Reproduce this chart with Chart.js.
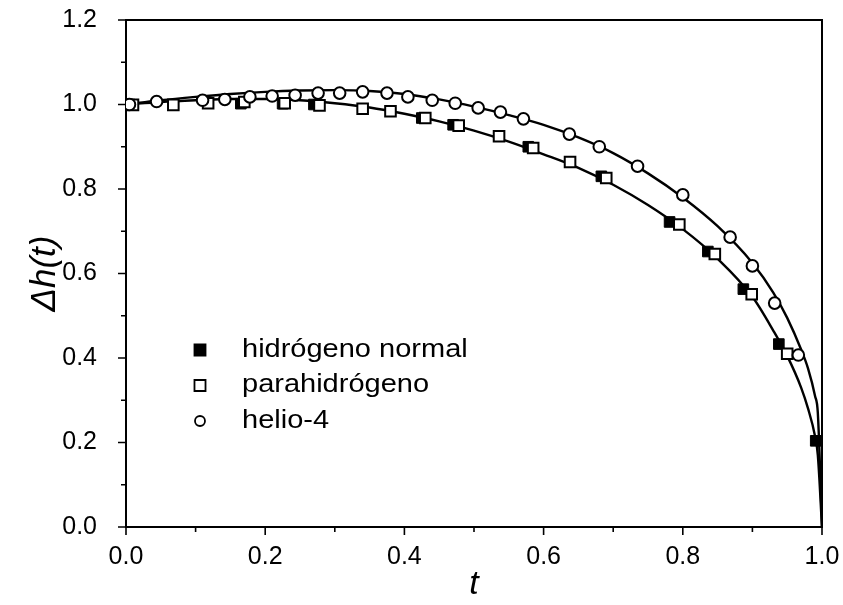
<!DOCTYPE html>
<html>
<head>
<meta charset="utf-8">
<script src="https://cdn.jsdelivr.net/npm/chart.js@4/dist/chart.umd.min.js"></script>
<style>
  html, body { margin: 0; padding: 0; background: #fff; }
  #plot { display: block; }
</style>
</head>
<body>
<canvas id="plot" width="843" height="605"></canvas>
<script>
// medidas: hidrógeno normal
const hnT  = [0.005, 0.165, 0.225, 0.27, 0.425, 0.47, 0.578, 0.683, 0.781, 0.836, 0.887, 0.938, 0.991];
const hnDh = [1.000, 1.002, 1.002, 1.000, 0.968, 0.952, 0.900, 0.830, 0.722, 0.652, 0.563, 0.433, 0.204];

// medidas: parahidrógeno
const phT  = [0.01, 0.068, 0.118, 0.17, 0.228, 0.278, 0.34, 0.38, 0.43, 0.478, 0.536, 0.585, 0.638, 0.69, 0.795, 0.846, 0.899, 0.95];
const phDh = [0.999, 0.999, 1.003, 1.006, 1.003, 0.998, 0.990, 0.984, 0.968, 0.950, 0.925, 0.897, 0.864, 0.826, 0.716, 0.646, 0.551, 0.410];

// medidas: helio-4
const heT  = [0.005, 0.044, 0.11, 0.142, 0.178, 0.21, 0.243, 0.276, 0.307, 0.34, 0.375, 0.405, 0.44, 0.473, 0.506, 0.538, 0.571, 0.637, 0.68, 0.735, 0.80, 0.868, 0.90, 0.932, 0.966];
const heDh = [1.000, 1.007, 1.010, 1.012, 1.018, 1.020, 1.022, 1.027, 1.027, 1.030, 1.027, 1.018, 1.010, 1.003, 0.992, 0.982, 0.966, 0.930, 0.900, 0.854, 0.786, 0.686, 0.618, 0.530, 0.407];

// curvas ajustadas
const curveT   = [0, 0.05, 0.1, 0.15, 0.2, 0.25, 0.3, 0.35, 0.4, 0.45, 0.5, 0.55, 0.6, 0.65, 0.7, 0.75, 0.8, 0.85, 0.9, 0.93, 0.95, 0.97, 0.98, 0.99, 0.994, 1.0];
const curveHe  = [1.000, 1.010, 1.018, 1.025, 1.030, 1.033, 1.034, 1.032, 1.025, 1.012, 0.995, 0.975, 0.952, 0.922, 0.885, 0.837, 0.780, 0.712, 0.625, 0.555, 0.495, 0.420, 0.375, 0.310, 0.270, 0.0];
const curveH2  = [1.000, 1.006, 1.010, 1.013, 1.013, 1.010, 1.003, 0.993, 0.978, 0.960, 0.938, 0.912, 0.882, 0.850, 0.810, 0.762, 0.705, 0.635, 0.545, 0.465, 0.405, 0.330, 0.280, 0.215, 0.170, 0.0];

const xTicks = [0, 0.2, 0.4, 0.6, 0.8, 1.0];
const yTicks = [0, 0.2, 0.4, 0.6, 0.8, 1.0, 1.2];

const FONT = "'Liberation Sans', Arial, sans-serif";

const pts = (xs, ys) => xs.map((x, i) => ({ x: x, y: ys[i] }));

// marco superior/derecho, marcas de los ejes y leyenda
const framePlugin = {
  id: 'frame',
  afterDraw(chart) {
    const ctx = chart.ctx;
    const a = chart.chartArea;
    const xs = chart.scales.x, ys = chart.scales.y;
    ctx.save();
    ctx.strokeStyle = '#000';
    ctx.lineWidth = 2;
    ctx.beginPath();
    ctx.moveTo(a.left, a.top);
    ctx.lineTo(a.right, a.top);
    ctx.lineTo(a.right, a.bottom);
    ctx.stroke();

    ctx.lineWidth = 1.6;
    ctx.beginPath();
    for (let i = 0; i <= 10; i++) {
      const px = xs.getPixelForValue(i / 10);
      const len = i % 2 === 0 ? 8 : 5;
      ctx.moveTo(px, a.bottom);
      ctx.lineTo(px, a.bottom + len);
    }
    for (let i = 0; i <= 12; i++) {
      const py = ys.getPixelForValue(i / 10);
      const len = i % 2 === 0 ? 8 : 5;
      ctx.moveTo(a.left, py);
      ctx.lineTo(a.left - len, py);
    }
    ctx.stroke();

    // leyenda
    const items = chart.data.datasets.filter(d => d.label);
    ctx.font = '25px ' + FONT;
    ctx.textBaseline = 'middle';
    ctx.textAlign = 'left';
    items.forEach((d, i) => {
      const y = 350 + i * 35.5;
      const r = d.pointStyle === 'rect' ? 7.8 : 5;
      ctx.fillStyle = d.backgroundColor;
      ctx.strokeStyle = d.borderColor;
      ctx.lineWidth = 1.8;
      Chart.helpers.drawPoint(ctx, { pointStyle: d.pointStyle, radius: r, rotation: 0, borderWidth: 1.8 }, 200, y);
      ctx.save();
      ctx.translate(242, y);
      ctx.scale(1.16, 1);
      ctx.fillStyle = '#000';
      ctx.fillText(d.label, 0, 0);
      ctx.restore();
    });
    ctx.restore();
  }
};

new Chart(document.getElementById('plot').getContext('2d'), {
  type: 'scatter',
  data: {
    datasets: [
      {
        data: pts(curveT, curveHe),
        showLine: true, pointRadius: 0, borderColor: '#000', borderWidth: 2.4,
        cubicInterpolationMode: 'monotone', order: 5
      },
      {
        data: pts(curveT, curveH2),
        showLine: true, pointRadius: 0, borderColor: '#000', borderWidth: 2.4,
        cubicInterpolationMode: 'monotone', order: 5
      },
      {
        label: 'hidrógeno normal',
        data: pts(hnT, hnDh),
        pointStyle: 'rect', pointRadius: 7.5,
        backgroundColor: '#000', borderColor: '#000', borderWidth: 1, order: 3
      },
      {
        label: 'parahidrógeno',
        data: pts(phT, phDh),
        pointStyle: 'rect', pointRadius: 7.5,
        backgroundColor: '#fff', borderColor: '#000', borderWidth: 2, order: 2
      },
      {
        label: 'helio-4',
        data: pts(heT, heDh),
        pointStyle: 'circle', pointRadius: 5.8,
        backgroundColor: '#fff', borderColor: '#000', borderWidth: 2, order: 1
      }
    ]
  },
  options: {
    responsive: false,
    animation: false,
    devicePixelRatio: 1,
    layout: { padding: { left: 0, top: 20, right: 21, bottom: 0 } },
    plugins: { legend: { display: false }, tooltip: { enabled: false } },
    scales: {
      x: {
        type: 'linear', min: 0, max: 1,
        afterFit: s => { s.height = 78; s.paddingLeft = 0; s.paddingRight = 0; },
        afterBuildTicks: s => { s.ticks = xTicks.map(v => ({ value: v })); },
        grid: { display: false },
        border: { display: true, color: '#000', width: 2 },
        ticks: { color: '#000', font: { family: FONT, size: 25 }, padding: 7,
                 callback: v => v.toFixed(1), maxRotation: 0 },
        title: { display: true, text: 't', color: '#000',
                 font: { family: FONT, size: 34, style: 'italic' }, padding: { top: 0, bottom: 0 } }
      },
      y: {
        type: 'linear', min: 0, max: 1.2,
        afterFit: s => { s.width = 126; s.paddingTop = 0; s.paddingBottom = 0; },
        afterBuildTicks: s => { s.ticks = yTicks.map(v => ({ value: v })); },
        grid: { display: false },
        border: { display: true, color: '#000', width: 2 },
        ticks: { color: '#000', font: { family: FONT, size: 25 }, padding: 21,
                 callback: v => v.toFixed(1) },
        title: { display: true, text: 'Δh(t)', color: '#000',
                 font: { family: FONT, size: 35, style: 'italic' }, padding: { top: 24, bottom: 0 } }
      }
    }
  },
  plugins: [framePlugin]
});
</script>
</body>
</html>
